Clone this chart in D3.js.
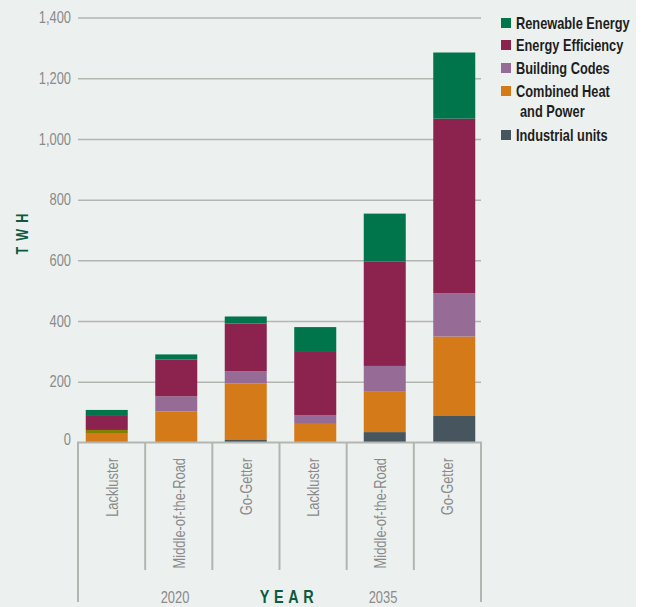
<!DOCTYPE html>
<html>
<head>
<meta charset="utf-8">
<script src="https://cdn.jsdelivr.net/npm/d3@7"></script>
<style>
  body { margin: 0; background: #fff; }
  svg { display: block; }
  text { font-family: "Liberation Sans", Arial, sans-serif; }
</style>
</head>
<body>
<svg id="chart" width="647" height="607"></svg>
<script>
// scenarios, grouped by year
const scenarios = ["Lackluster", "Middle-of-the-Road", "Go-Getter", "Lackluster", "Middle-of-the-Road", "Go-Getter"];
const years = ["2020", "2035"];
const yTicks = [0, 200, 400, 600, 800, 1000, 1200, 1400];

// TWh per series (bottom to top)
const industrial = [0, 0, 10, 0, 34, 87];
const chp        = [31, 102, 184, 61, 135, 262];
const unlabeled  = [10, 0, 0, 0, 0, 0];   // olive sliver in first bar, not in legend
const buildCodes = [0, 50, 40, 29, 83, 142];
const efficiency = [49, 121, 158, 211, 344, 576];
const renewable  = [17, 17, 23, 79, 158, 218];

const series = [
    {key: "ind", name: "Industrial units", values: industrial, color: "#47555e"},
    {key: "chp", name: "Combined Heat|and Power", values: chp, color: "#d47a18"},
    {key: "oth", name: null, values: unlabeled, color: "#857f00"},
    {key: "bc",  name: "Building Codes", values: buildCodes, color: "#966b96"},
    {key: "ee",  name: "Energy Efficiency", values: efficiency, color: "#8b234e"},
    {key: "re",  name: "Renewable Energy", values: renewable, color: "#00744a"}
];

const green = "#0d5a3e";
const grey = "#8a8a8a";
const lineCol = "#b3b5b0";
const squeeze = 0.76;   // no condensed face installed, so squash horizontally

const svg = d3.select("#chart");
svg.append("rect").attr("width", 636).attr("height", 607).attr("fill", "#ecf1ef");

const idx = d3.range(scenarios.length);
const rows = idx.map(i => {
    let r = {i: i};
    series.forEach(s => r[s.key] = s.values[i]);
    return r;
});

const y = d3.scaleLinear().domain([0, 1400]).range([442.4, 17.6]);
const xCell = d3.scaleBand().domain(idx).range([78, 481]);      // divider cells
const xBar = d3.scaleBand().domain(idx).range([72, 489]);       // bars sit a bit off the cells
const barW = 42;

// gridlines + labels
const yAxis = d3.axisLeft(y).tickValues(yTicks).tickSize(-403).tickPadding(0)
    .tickFormat(d3.format(","));
const ga = svg.append("g").attr("transform", "translate(78,0)").call(yAxis);
ga.select(".domain").remove();
ga.selectAll(".tick line").attr("stroke", lineCol).attr("stroke-width", 1.5);
ga.selectAll(".tick text").attr("x", null).attr("fill", grey)
    .attr("font-size", 17).attr("dy", "0.3em")
    .attr("transform", `translate(-7,0) scale(${squeeze},1)`);
ga.selectAll(".tick").filter(d => d === 0).select("text").attr("dy", "0.1em");
ga.selectAll(".tick").filter(d => d === 0).select("line").remove();

// stacked bars
const stack = d3.stack().keys(series.map(s => s.key));
const layers = stack(rows);
svg.append("g").selectAll("g").data(layers).join("g")
    .attr("fill", (d, k) => series[k].color)
    .selectAll("rect").data(d => d.filter(p => p[1] > p[0])).join("rect")
    .attr("x", p => xBar(p.data.i) + xBar.bandwidth() / 2 - barW / 2)
    .attr("width", barW)
    .attr("y", p => y(p[1]))
    .attr("height", p => y(p[0]) - y(p[1]));

// baseline and category dividers
const axisG = svg.append("g").attr("stroke", lineCol).attr("stroke-width", 2);
axisG.append("line").attr("x1", 77).attr("x2", 482).attr("y1", y(0)).attr("y2", y(0));
const edges = idx.map(i => xCell(i)).concat([xCell.range()[1]]);
axisG.selectAll("line.div").data(edges).join("line").attr("class", "div")
    .attr("x1", d => d).attr("x2", d => d)
    .attr("y1", y(0))
    .attr("y2", (d, k) => (k === 0 || k === edges.length - 1) ? 602 : 570);

// scenario labels
svg.append("g").selectAll("text").data(idx).join("text")
    .attr("transform", i => `translate(${xCell(i) + xCell.bandwidth() / 2 + 6},458) rotate(-90) scale(${squeeze},1)`)
    .attr("text-anchor", "end")
    .attr("fill", grey).attr("font-size", 17)
    .text(i => scenarios[i]);

// year labels
svg.append("g").selectAll("text").data(years).join("text")
    .attr("transform", (d, k) => `translate(${k === 0 ? 175 : 383},603) scale(${squeeze},1)`)
    .attr("text-anchor", "middle").attr("fill", grey).attr("font-size", 17)
    .text(d => d);

svg.append("text")
    .attr("transform", `translate(289,603) scale(${squeeze},1)`).attr("text-anchor", "middle")
    .attr("fill", green).attr("font-weight", "bold").attr("font-size", 19)
    .attr("letter-spacing", 6)
    .text("YEAR");

svg.append("text")
    .attr("transform", `translate(28,231) rotate(-90) scale(${squeeze},1)`).attr("text-anchor", "middle")
    .attr("fill", green).attr("font-weight", "bold").attr("font-size", 16.5)
    .attr("letter-spacing", 8)
    .text("TWH");

// legend
const legendItems = series.filter(s => s.name).slice().reverse();
const legendY = [23, 45, 68, 91, 135];
const lg = svg.append("g").selectAll("g").data(legendItems).join("g")
    .attr("transform", (d, k) => `translate(501,${legendY[k]})`);
lg.append("rect").attr("x", 0).attr("y", -5).attr("width", 10).attr("height", 10)
    .attr("fill", d => d.color);
lg.each(function(d) {
    const parts = d.name.split("|");
    const t = d3.select(this).append("text")
        .attr("transform", "translate(15,0) scale(0.8,1)")
        .attr("fill", "#1e1e1e").attr("font-weight", "bold").attr("font-size", 16);
    parts.forEach((p, j) => {
        t.append("tspan").attr("x", j ? 5 : 0).attr("y", j * 20).attr("dy", "0.35em").text(p);
    });
});
</script>
</body>
</html>
